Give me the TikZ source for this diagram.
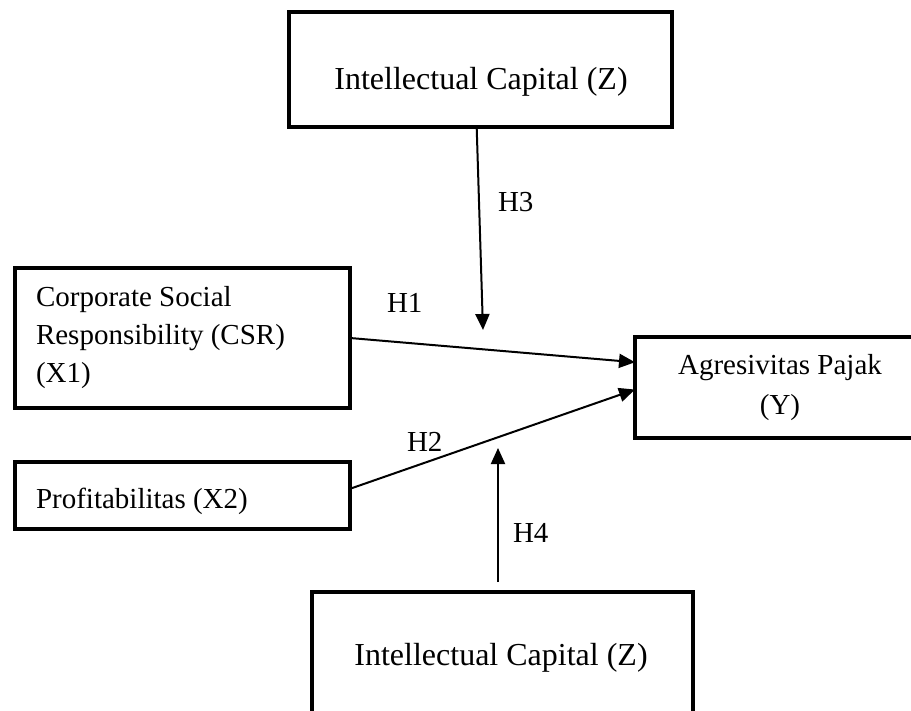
\documentclass[tikz,border=0pt]{standalone}
\usepackage{fontspec}
\setmainfont{Liberation Serif}
\usetikzlibrary{arrows.meta,calc}
\tikzset{
  boxnode/.style={draw=black, line width=4pt, rectangle, inner sep=0pt, outer sep=0pt},
  conn/.style={line width=2pt, -{Triangle[length=16pt,width=14pt]}},
  txt/.style={inner sep=0pt, outer sep=0pt, font=\fontsize{29}{38}\selectfont},
  bigtxt/.style={inner sep=0pt, outer sep=0pt, font=\fontsize{32}{38}\selectfont},
}
\begin{document}
\begin{tikzpicture}[x=1pt,y=-1pt]
\useasboundingbox (0,0) rectangle (911,711);
\clip (0,0) rectangle (911,711);
\fill[white] (0,0) rectangle (911,711);
% boxes
\node[boxnode, minimum width=383pt, minimum height=115pt] (top) at (480.5,69.5) {};
\node[boxnode, minimum width=335pt, minimum height=140pt] (csr) at (182.5,338) {};
\node[boxnode, minimum width=335pt, minimum height=67pt] (prof) at (182.5,495.5) {};
\node[boxnode, minimum width=290pt, minimum height=101pt] (agr) at (780,387.5) {};
\node[boxnode, minimum width=381pt, minimum height=140pt] (bot) at (502.5,662) {};
% texts
\node[bigtxt, anchor=base] (toptxt) at (481,90) {Intellectual Capital (Z)};
\node[txt, anchor=base west] (csrtxt1) at (36,307) {Corporate Social};
\node[txt, anchor=base west] (csrtxt2) at (36,345) {Responsibility (CSR)};
\node[txt, anchor=base west] (csrtxt3) at (36,383) {(X1)};
\node[txt, anchor=base west] (proftxt) at (36,508) {Profitabilitas (X2)};
\node[txt, anchor=base] (agrtxt1) at (780,375) {Agresivitas Pajak};
\node[txt, anchor=base] (agrtxt2) at (780,415) {(Y)};
\node[bigtxt, anchor=base] (bottxt) at (501,665) {Intellectual Capital (Z)};
% connector points
\coordinate (h3s) at ($(top.south west)!0.49!(top.south east)$);
\coordinate (h3e) at (483,330);
\coordinate (h1e) at ($(agr.north west)!0.25!(agr.south west)$);
\coordinate (h2s) at ($(prof.north east)!0.4!(prof.south east)$);
\coordinate (h2e) at ($(agr.north west)!0.52!(agr.south west)$);
\coordinate (h4s) at (498,582);
\coordinate (h4e) at (498,448);
% connectors
\draw[conn] (h3s) -- (h3e);
\draw[conn] (csr.east) -- (h1e);
\draw[conn] (h2s) -- (h2e);
\draw[conn] (h4s) -- (h4e);
% labels
\node[txt, anchor=base west] (lh3) at (498,212) {H3};
\node[txt, anchor=base west] (lh1) at (387,313) {H1};
\node[txt, anchor=base west] (lh2) at (407,452) {H2};
\node[txt, anchor=base west] (lh4) at (513,542) {H4};
\end{tikzpicture}
\end{document}
